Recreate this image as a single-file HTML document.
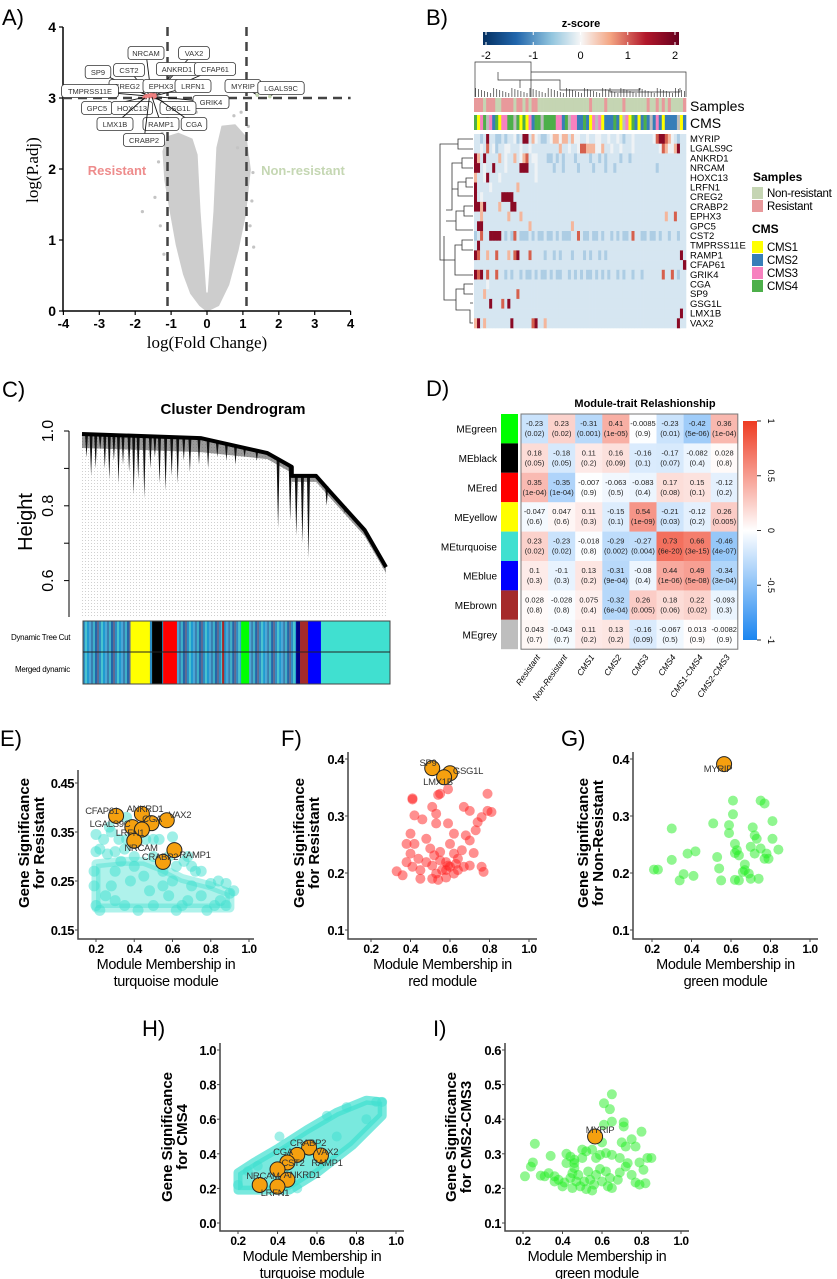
<!DOCTYPE html>
<html><head><meta charset="utf-8">
<style>
html,body{margin:0;padding:0;background:#fff;}
svg{display:block;font-family:"Liberation Sans",sans-serif;}
.nar{letter-spacing:-0.4px;}
</style></head>
<body>
<svg id="fig" xmlns="http://www.w3.org/2000/svg" width="837" height="1279" viewBox="0 0 837 1279">
<defs>
<linearGradient id="zgrad" x1="0" x2="1" y1="0" y2="0">
<stop offset="0" stop-color="#053061"/><stop offset="0.17" stop-color="#2166ac"/><stop offset="0.35" stop-color="#92c5de"/><stop offset="0.5" stop-color="#f7f7f7"/><stop offset="0.65" stop-color="#f4a582"/><stop offset="0.83" stop-color="#b2182b"/><stop offset="1" stop-color="#67001f"/>
</linearGradient>
<linearGradient id="dgrad" x1="0" x2="0" y1="0" y2="1">
<stop offset="0" stop-color="#ee3b22"/><stop offset="0.5" stop-color="#ffffff"/><stop offset="1" stop-color="#1a85f0"/>
</linearGradient>
<pattern id="dots" width="3" height="3" patternUnits="userSpaceOnUse">
<rect x="1" y="0" width="0.6" height="1" fill="#b0b0b0"/>
</pattern>
</defs>
</svg>
<script>
// ---------------- DATA ----------------
// Panel A volcano
const volcanoXTicks = [-4,-3,-2,-1,0,1,2,3,4];
const volcanoYTicks = [0,1,2,3,4];
const volcanoCloudFC = [0,-0.2,-0.45,-0.65,-0.85,-1.0,-1.17,-1.22,-1.1,-0.8,-0.42,-0.28,-0.2,-0.1,-0.04,0.04,0.1,0.2,0.28,0.42,0.78,1.08,1.2,1.06,0.86,0.6,0.32];
const volcanoCloudP  = [0,0.08,0.25,0.52,0.93,1.35,1.85,2.25,2.45,2.5,2.42,2.2,1.4,0.7,0.25,0.25,0.7,1.4,2.3,2.6,2.62,2.45,1.99,1.35,0.86,0.37,0.08];
const strayFC = [-1.8,-1.45,-1.35,-1.3,-1.2,1.2,1.25,1.3,1.15,0.55,0.75,0.95,-0.3,0.85,-1.25,1.28];
const strayP  = [1.4,1.6,2.1,1.2,0.8,1.2,1.55,0.9,2.6,2.95,2.75,2.8,2.8,2.3,2.5,1.95];
const geneNames = ["NRCAM","VAX2","SP9","CST2","ANKRD1","CFAP61","CREG2","EPHX3","LRFN1","MYRIP","LGALS9C","TMPRSS11E","GRIK4","GPC5","HOXC13","GSG1L","LMX1B","RAMP1","CGA","CRABP2"];
const geneFC = [-1.55,-1.5,-1.6,-1.6,-1.5,-1.45,-1.6,-1.55,-1.45,1.4,1.75,-1.7,-1.45,-1.75,-1.65,-1.5,-1.7,-1.55,-1.45,-1.6];
const geneP  = [3.03,3.02,3.03,3.04,3.05,3.04,3.02,3.05,3.03,3.04,3.02,3.03,3.02,3.01,3.03,3.01,3.02,3.04,3.02,3.03];

// Panel B heatmap
const heatGenes = ["MYRIP","LGALS9C","ANKRD1","NRCAM","HOXC13","LRFN1","CREG2","CRABP2","EPHX3","GPC5","CST2","TMPRSS11E","RAMP1","CFAP61","GRIK4","CGA","SP9","GSG1L","LMX1B","VAX2"];
const heatRows = [
"bbBbDbbBBbBbb.BbDDbr.bBBb.rr.rrbr..bb.bb..bb.bb.bBbb.bbbbbb.RDDRr.bBbb",
"bb.bRb.Bbb..bbb.bb.bbbbbbbbbrbb.bb.RRrrr..rbb.bb.bbb.bbbbbbbb.Rr..rDbb",
"DrbDbbbbrb.bbrb.rRb..bbbBBbBbBbbbBbbbbBbbBbBbbbbBbbBbbbbbbbbbbbbbbbbbb",
"DDb.bbDbbb.bbbbDDDbb.bbbbbBbbBbbbbBbbbbBbbbBbbBbbbbbbbbbbbbbBbbbbbbbbb",
"rbb.Dbbb.bbbbbbbbbbb.bbbbbbbbbbbbbbbbbbbbbbbbbbbbbbbbbbbbbbbbbbbbbbbbb",
"Dbbbb.bbbbbbbbrbbbbbbbbbbbbbbbbbbbbbbbbbbbbbbbbbbbbbbbbbbbbbbbbbbbbbbb",
"Db.bbbbbbDDDDbbbbbbbbbbbbbbbbbbbbbbbbbbbbbbbbbbbbbbbbbbbbbbbbbbbbbbbbb",
"DDrDbbbbrbbbDDbbbbbbbbbbbbbbbbbbbbbbbbbbbbbbbbbbbbbbbbbbbbbbbbbbbbbbbb",
"bbrbbbbbbbbrbbbrbbbbbbbbbbbbbbbbbbbbbbbbbbbbbbbbbbbbbbbbbbbbbbbrbbRbbb",
"bDDbbbbbbbbbbbbbbbrbbbbbbbbbbbbbrbbbbbbbbbbbbbbbbbbbbbbbbbbbbbbbbbbbbb",
"BbRbbDDDDbBbBRbBBBbBbBBbBBbBbBBBbbRbBBbBBbBbbBbBbBBbRbbBBbBBbBbbBbbBbb",
"bDbbbbbbbbbbbbbbbbbbbbbbbbbbbbbbbbbbbbbbbbbbbbbbbbbbbbbbbbbbbbbbbbbbbb",
"DRbbrbbRbbbrbRDbbbRbbbbBbbBbBbbbBbbbBbBbbBbBbbbbbbbbbbbbbbbbbbbbbbbbDb",
"bbbbbbbbbbbbbbbbbbbbbbbbbbbbbbbbbbbbbbbbbbbbbbbbbbbbbbbbbbbbbbbbbbbbbD",
"DRDbRbbRbbBbBbbBbBBbBbBBbBbBBbbBbBbBbBBbBbBbBbbBbBbbBbbBbbbbbbRbbRbBbb",
"bbbb.bbbbbbbbbbbbbbbbbbbbbbbbbbbbbbbbbbbbbbbbbbbbbbbbbbbbbbbbbbbbbbbbb",
"bbbrbbbbbbbbbbRbbbbbbbbbbbbbbbbbbbbbbbbbbbbbbbbbbbbbbbbbbbbbbbbbbbbbbb",
"bbbbbDbbbRbDbbbbbbbbbbbbbbbbbbbbbbbbbbbbbbbbbbbbbbbbbbbbbbbbbbbbbbbbbb",
"bbbbbbbbbbbbbbbbbbbbbbbbbbbbbbbbbbbbbbbbbbbbbbbbbbbbbbbbbbbbbbbbbbbbDb",
"rDbrbbbbbbbbDbbbbbbRDbbrbbbbbbbbbbbbbbbbbbbbbbbbbbbbbbbbbbbbbbbbbbbDbb"];
const sampleGroups = "RRRNRRRNNRRRRNRRNRNRRNNNNNNNNNNNNNNNNNRNNNNRNNNNNRNNNNNNNRNNRNRNRNNNNR";
const cmsGroups    = "4134132413344241413244144443324133224213231222421331421242223212222312";
const zTicks = [-2,-1,0,1,2];

// Panel C
const envHeight = [0.992,0.981,0.941,0.904,0.88,0.88,0.834,0.735,0.636];
const envX      = [0,0.39,0.61,0.69,0.69,0.77,0.82,0.93,1.0];
const spikeX = [0.01,0.025,0.04,0.055,0.07,0.085,0.1,0.115,0.13,0.15,0.165,0.18,0.2,0.22,0.235,0.25,0.27,0.29,0.31,0.33,0.35,0.38,0.41,0.44,0.47,0.5,0.53,0.57,0.6,0.64,0.68,0.7,0.72,0.74,0.8,0.86];
const spikeBottom = [0.93,0.88,0.9,0.95,0.9,0.87,0.92,0.86,0.91,0.89,0.83,0.87,0.82,0.9,0.93,0.86,0.84,0.88,0.86,0.92,0.89,0.91,0.9,0.93,0.92,0.91,0.93,0.92,0.94,0.74,0.76,0.72,0.7,0.66,0.8,0.78];
const cTicks = [1.0,0.8,0.6];
const treeCut = [[0,0.155,"mix"],[0.155,0.218,"#ffff00"],[0.218,0.225,"mix"],[0.225,0.258,"#000000"],[0.258,0.261,"mix"],[0.261,0.306,"#ff0000"],[0.306,0.453,"mix"],[0.453,0.46,"#a52a2a"],[0.46,0.515,"mix"],[0.515,0.541,"#00ff00"],[0.541,0.694,"mix"],[0.694,0.707,"#00008b"],[0.707,0.733,"#a52a2a"],[0.733,0.775,"#0000ff"],[0.775,1,"#40e0d0"]];

// Panel D
const modules = ["MEgreen","MEblack","MEred","MEyellow","MEturquoise","MEblue","MEbrown","MEgrey"];
const moduleColors = ["#00ff00","#000000","#ff0000","#ffff00","#40e0d0","#0000ff","#a52a2a","#bebebe"];
const traits = ["Resistant","Non-Resistant","CMS1","CMS2","CMS3","CMS4","CMS1-CMS4","CMS2-CMS3"];
const corVals = [
["-0.23","0.23","-0.31","0.41","-0.0085","-0.23","-0.42","0.36"],
["0.18","-0.18","0.11","0.16","-0.16","-0.17","-0.082","0.028"],
["0.35","-0.35","-0.007","-0.063","-0.083","0.17","0.15","-0.12"],
["-0.047","0.047","0.11","-0.15","0.54","-0.21","-0.12","0.26"],
["0.23","-0.23","-0.018","-0.29","-0.27","0.73","0.66","-0.46"],
["0.1","-0.1","0.13","-0.31","-0.08","0.44","0.49","-0.34"],
["0.028","-0.028","0.075","-0.32","0.26","0.18","0.22","-0.093"],
["0.043","-0.043","0.11","0.13","-0.16","-0.067","0.013","-0.0082"]];
const pVals = [
["0.02","0.02","0.001","1e-05","0.9","0.01","5e-06","1e-04"],
["0.05","0.05","0.2","0.09","0.1","0.07","0.4","0.8"],
["1e-04","1e-04","0.9","0.5","0.4","0.08","0.1","0.2"],
["0.6","0.6","0.3","0.1","1e-09","0.03","0.2","0.005"],
["0.02","0.02","0.8","0.002","0.004","6e-20","3e-15","4e-07"],
["0.3","0.3","0.2","9e-04","0.4","1e-06","5e-08","3e-04"],
["0.8","0.8","0.4","6e-04","0.005","0.06","0.02","0.3"],
["0.7","0.7","0.2","0.2","0.09","0.5","0.9","0.9"]];
const dTicks = [1,0.5,0,-0.5,-1];

// Panel E
const ePoints = [[0.2,0.345],[0.24,0.335],[0.28,0.35],[0.32,0.335],[0.36,0.335],[0.2,0.31],[0.22,0.315],[0.26,0.305],[0.3,0.31],[0.35,0.315],[0.46,0.335],[0.5,0.335],[0.53,0.335],[0.6,0.34],[0.66,0.29],[0.62,0.28],[0.72,0.27],[0.75,0.27],[0.7,0.28],[0.8,0.245],[0.84,0.25],[0.88,0.245],[0.9,0.225],[0.88,0.2],[0.85,0.21],[0.68,0.3],[0.58,0.3],[0.5,0.3],[0.27,0.36],[0.36,0.38],[0.43,0.355],[0.2,0.2],[0.25,0.22],[0.3,0.27],[0.4,0.28],[0.45,0.26],[0.55,0.27],[0.6,0.25],[0.7,0.24],[0.75,0.22],[0.82,0.2],[0.65,0.2],[0.5,0.2],[0.35,0.2],[0.92,0.23],[0.78,0.19],[0.19,0.27],[0.19,0.24],[0.4,0.3],[0.33,0.29],[0.28,0.24],[0.38,0.25],[0.48,0.23],[0.58,0.22],[0.68,0.21],[0.22,0.19],[0.42,0.19],[0.62,0.19],[0.3,0.21],[0.55,0.24]];
const eCore = [[0.2,0.195],[0.9,0.195],[0.9,0.225],[0.8,0.24],[0.65,0.255],[0.55,0.275],[0.45,0.29],[0.33,0.29],[0.2,0.285]];
const eHub = [[0.305,0.383],[0.44,0.387],[0.39,0.36],[0.49,0.368],[0.44,0.355],[0.57,0.374],[0.40,0.332],[0.61,0.313],[0.55,0.289]];
const eHubNames = ["CFAP61","ANKRD1","LGALS9C","CGA","LRFN1","VAX2","NRCAM","RAMP1","CRABP2"];
// Panel F
const fPoints = [[0.41,0.329],[0.42,0.301],[0.54,0.337],[0.46,0.294],[0.51,0.316],[0.53,0.304],[0.67,0.316],[0.70,0.309],[0.74,0.289],[0.76,0.298],[0.79,0.309],[0.81,0.307],[0.73,0.275],[0.70,0.257],[0.66,0.240],[0.68,0.266],[0.59,0.287],[0.53,0.287],[0.62,0.269],[0.40,0.269],[0.38,0.251],[0.42,0.251],[0.40,0.234],[0.38,0.219],[0.41,0.211],[0.45,0.205],[0.50,0.243],[0.52,0.231],[0.55,0.222],[0.58,0.219],[0.59,0.213],[0.60,0.211],[0.56,0.205],[0.53,0.199],[0.51,0.190],[0.54,0.188],[0.58,0.192],[0.62,0.199],[0.64,0.205],[0.67,0.211],[0.70,0.213],[0.72,0.235],[0.76,0.211],[0.77,0.202],[0.33,0.203],[0.36,0.196],[0.45,0.190],[0.48,0.260],[0.60,0.251],[0.64,0.225],[0.55,0.237],[0.62,0.234],[0.51,0.213],[0.48,0.219],[0.44,0.225],[0.63,0.216],[0.58,0.205],[0.59,0.347],[0.79,0.339],[0.55,0.339],[0.41,0.331]];
const fHub = [[0.51,0.384],[0.60,0.375],[0.57,0.368]];
const fHubNames = ["SP9","GSG1L","LMX1B"];
// Panel G
const gPoints = [[0.30,0.278],[0.23,0.206],[0.21,0.206],[0.30,0.223],[0.34,0.187],[0.36,0.198],[0.38,0.234],[0.42,0.238],[0.41,0.195],[0.53,0.228],[0.54,0.208],[0.55,0.187],[0.51,0.287],[0.59,0.284],[0.59,0.270],[0.61,0.327],[0.61,0.303],[0.62,0.251],[0.62,0.235],[0.63,0.240],[0.64,0.231],[0.62,0.188],[0.64,0.187],[0.67,0.215],[0.66,0.202],[0.70,0.246],[0.71,0.280],[0.72,0.266],[0.73,0.260],[0.72,0.234],[0.69,0.199],[0.70,0.190],[0.74,0.190],[0.75,0.327],[0.77,0.322],[0.78,0.234],[0.77,0.225],[0.79,0.225],[0.81,0.291],[0.81,0.260],[0.84,0.241],[0.75,0.243],[0.67,0.205]];
const gHub = [[0.565,0.391]];
const gHubNames = ["MYRIP"];
// Panel H
const hCore = [[0.2,0.19],[0.46,0.19],[0.6,0.29],[0.78,0.45],[0.93,0.62],[0.93,0.7],[0.85,0.71],[0.7,0.64],[0.55,0.54],[0.4,0.43],[0.28,0.35],[0.2,0.29]];
const hPoints = [[0.41,0.50],[0.2,0.22],[0.25,0.3],[0.3,0.33],[0.9,0.7],[0.93,0.7],[0.85,0.6],[0.7,0.5],[0.6,0.45],[0.5,0.2],[0.45,0.42],[0.65,0.62],[0.75,0.67]];
const hHub = [[0.56,0.436],[0.50,0.394],[0.62,0.39],[0.45,0.35],[0.40,0.31],[0.45,0.25],[0.40,0.21],[0.31,0.22]];
// Panel I
const iPoints = [[0.65,0.472],[0.61,0.446],[0.64,0.429],[0.65,0.393],[0.61,0.384],[0.71,0.391],[0.71,0.379],[0.80,0.364],[0.75,0.342],[0.70,0.333],[0.72,0.321],[0.77,0.321],[0.60,0.333],[0.52,0.307],[0.59,0.297],[0.65,0.297],[0.26,0.329],[0.25,0.275],[0.34,0.294],[0.42,0.300],[0.50,0.312],[0.55,0.312],[0.46,0.283],[0.42,0.273],[0.50,0.288],[0.57,0.288],[0.62,0.302],[0.69,0.288],[0.73,0.273],[0.79,0.275],[0.83,0.288],[0.85,0.288],[0.81,0.254],[0.24,0.263],[0.21,0.235],[0.29,0.237],[0.33,0.244],[0.36,0.235],[0.38,0.225],[0.41,0.217],[0.44,0.230],[0.45,0.244],[0.46,0.259],[0.48,0.239],[0.47,0.220],[0.49,0.206],[0.52,0.198],[0.55,0.194],[0.56,0.211],[0.54,0.225],[0.57,0.239],[0.59,0.256],[0.62,0.249],[0.64,0.230],[0.63,0.206],[0.68,0.225],[0.69,0.246],[0.72,0.263],[0.75,0.239],[0.77,0.217],[0.79,0.211],[0.82,0.215],[0.65,0.201],[0.60,0.220],[0.45,0.201],[0.40,0.206],[0.36,0.220],[0.31,0.235],[0.51,0.220],[0.53,0.249],[0.46,0.273],[0.44,0.292]];
const iHub = [[0.565,0.35]];
const mmTicks = [0.2,0.4,0.6,0.8,1.0];

// ---------------- DRAWING ----------------
const NS = "http://www.w3.org/2000/svg";
const svg = document.getElementById("fig");
function mk(tag, attrs, parent){
  const e = document.createElementNS(NS, tag);
  for (const k in attrs) e.setAttribute(k, attrs[k]);
  (parent || svg).appendChild(e);
  return e;
}
function tx(x, y, s, attrs, parent){
  const e = mk("text", Object.assign({x:x, y:y}, attrs || {}), parent);
  e.textContent = s;
  return e;
}
function grp(name){
  const g = mk("g", {});
  
  
  return g;
}
function panelLabel(s, x, y){
  const t = tx(x, y, s, {"font-size":22, fill:"#000"});
  
  
}
panelLabel("A)", 2, 25); panelLabel("B)", 426, 25);
panelLabel("C)", 2, 397); panelLabel("D)", 426, 396);
panelLabel("E)", 0, 746); panelLabel("F)", 281, 746); panelLabel("G)", 561, 746);
panelLabel("H)", 142, 1036); panelLabel("I)", 433, 1036);

// ---- Panel A ----
(function(){
  const g = grp("volcano-plot");
  const X = v => 207 + v * 35.9, Y = v => 311 - v * 71;
  let d = "";
  volcanoCloudFC.forEach((v, i) => { d += (i ? "L" : "M") + X(v).toFixed(1) + "," + Y(volcanoCloudP[i]).toFixed(1); });
  const cloud = mk("path", {d: d + "Z", fill:"#cdcdcd", stroke:"#cdcdcd", "stroke-width":1.5, "stroke-linejoin":"round"}, g);
  
  
  strayFC.forEach((v, i) => {
    const c = mk("circle", {cx:X(v), cy:Y(strayP[i]), r:1.6, fill:"#c4c4c4"}, g);
    
    
  });
  const ax = mk("path", {d:"M63," + Y(4) + "V311H" + X(4), fill:"none", stroke:"#000", "stroke-width":1.5}, g);
  
  
  volcanoXTicks.forEach(v => {
    mk("line", {x1:X(v), x2:X(v), y1:311, y2:315, stroke:"#000", "stroke-width":1.2}, g);
    const t = tx(X(v), 328, String(v), {"font-size":13, "font-weight":"bold", "text-anchor":"middle"}, g);
    
    
  });
  volcanoYTicks.forEach(v => {
    mk("line", {x1:59, x2:63, y1:Y(v), y2:Y(v), stroke:"#000", "stroke-width":1.2}, g);
    const t = tx(56, Y(v) + 5, String(v), {"font-size":14, "font-weight":"bold", "text-anchor":"end"}, g);
    
    
  });
  const xt = tx(207, 348, "log(Fold Change)", {"font-size":17, "font-family":"Liberation Serif,serif", "text-anchor":"middle"}, g);
  
  
  const yt = tx(0, 0, "log(P.adj)", {"font-size":17, "font-family":"Liberation Serif,serif", "text-anchor":"middle", transform:"translate(38,170) rotate(-90)"}, g);
  
  
  [-1.1, 1.1].forEach(v => {
    const l = mk("line", {x1:X(v), x2:X(v), y1:Y(4), y2:311, stroke:"#444", "stroke-width":2.5, "stroke-dasharray":"9,6"}, g);
    
    
  });
  const hl = mk("line", {x1:63, x2:X(4), y1:Y(3), y2:Y(3), stroke:"#444", "stroke-width":2.5, "stroke-dasharray":"9,6"}, g);
  
  
  const r1 = tx(117, 175, "Resistant", {"font-size":13, "font-weight":"bold", fill:"#ee8c8c", "text-anchor":"middle"}, g);
  
  
  const r2 = tx(303, 175, "Non-resistant", {"font-size":13, "font-weight":"bold", fill:"#c5d7b3", "text-anchor":"middle"}, g);
  
  
  const boxes = [[146,53],[194,53],[98,72],[129,70],[177,69],[215,69],[127,86],[161,86],[193,86],[243,86],[281,88],[90,91],[211,102],[97,108],[132,108],[178,108],[115,124],[161,124],[194,124],[144,140]];
  geneNames.forEach((n, i) => {
    const px = X(geneFC[i]), py = Y(geneP[i]);
    const [bx, by] = boxes[i];
    const w = n.length * 5.2 + 10;
    mk("line", {x1:bx, y1:by, x2:px, y2:py, stroke:"#111", "stroke-width":0.9}, g);
    const pt = mk("circle", {cx:px, cy:py, r:1.8, fill: geneFC[i] < 0 ? "#f08080" : "#c5d7b3"}, g);
    
    
    const b = mk("rect", {x:bx - w/2, y:by - 6.5, width:w, height:13, rx:3, fill:"#fff", stroke:"#333", "stroke-width":0.8}, g);
    
    
    const t = tx(bx, by + 2.8, n, {"font-size":7.5, "text-anchor":"middle", fill:"#333"}, g);
    
    
  });
})();

// ---- Panel B ----
(function(){
  const g = grp("expression-heatmap");
  const cb = mk("rect", {x:483, y:32, width:196, height:13, fill:"url(#zgrad)"}, g);
  
  
  const zt = tx(581, 27, "z-score", {"font-size":11, "font-weight":"bold", "text-anchor":"middle"}, g);
  
  
  zTicks.forEach(v => {
    const x = 486 + (v + 2) / 4 * 189;
    mk("line", {x1:x, x2:x, y1:32, y2:35, stroke:"#fff", "stroke-width":1}, g);
    mk("line", {x1:x, x2:x, y1:42, y2:45, stroke:"#fff", "stroke-width":1}, g);
    const t = tx(x, 59, String(v), {"font-size":11, "text-anchor":"middle"}, g);
    
    
  });
  const x0 = 474, x1 = 686, nC = 70, cw = (x1 - x0) / nC, y0 = 134, rh = 9.7;
  const cmap = {".":"#eef2f5","b":"#d6e6f1","B":"#adcde4","r":"#f4b69c","R":"#d6604d","D":"#8a0a25"};
  heatRows.forEach((row, ri) => {
    for (let c = 0; c < nC; c++) {
      const ch = row[c] || "b";
      const r = mk("rect", {x:x0 + c*cw, y:y0 + ri*rh, width:cw + 0.3, height:rh + 0.3, fill:cmap[ch]}, g);
      
      
    }
    const t = tx(690, y0 + ri*rh + 8, heatGenes[ri], {"font-size":9.5}, g);
    
    
  });
  const cmsCol = {"1":"#ffff00","2":"#377eb8","3":"#f781bf","4":"#4daf4a"};
  for (let c = 0; c < nC; c++) {
    const s = mk("rect", {x:x0 + c*cw, y:98, width:cw + 0.3, height:14, fill: sampleGroups[c] === "R" ? "#e8999b" : "#c5d5b3"}, g);
    
    
    const k = mk("rect", {x:x0 + c*cw, y:115, width:cw + 0.3, height:15, fill: c % 9 === 4 ? "#bdbdbd" : cmsCol[cmsGroups[c]]}, g);
    
    
  }
  const st = tx(690, 111, "Samples", {"font-size":14}, g);
  
  
  const ct = tx(690, 128, "CMS", {"font-size":14}, g);
  
  
  let d = "M475,97V62H531V97M531,72H686V97M498,72V80H560V85M520,80V88M560,85V90H640V88M610,88V92H680V88";
  for (let c = 0; c < nC; c++) d += "M" + (x0 + c*cw + cw/2).toFixed(1) + ",97V" + (88 + (c*7 % 6));
  const cd = mk("path", {d:d, fill:"none", stroke:"#333", "stroke-width":0.7}, g);
  
  
  let rd = "M473,139H458V149H473M458,144H440V260H452M473,158H462V168H473M462,163H452V210H446M473,178H466V187H473M466,182H458V196H473M458,189H452M473,206H464V216H473M464,211H456V230H473M456,221H446M473,240H462V250H473M462,245H455V275H473M455,260H452M473,284H464V294H473M464,289H456V310H470V323H473M456,300H444V236M473,303H470";
  const rdp = mk("path", {d:rd, fill:"none", stroke:"#333", "stroke-width":0.8}, g);
  
  
  const leg = [["Samples",753,181,null],["Non-resistant",767,197,"#c5d5b3"],["Resistant",767,210,"#e8999b"],["CMS",752,233,null],["CMS1",767,251,"#ffff00"],["CMS2",767,264,"#377eb8"],["CMS3",767,277,"#f781bf"],["CMS4",767,290,"#4daf4a"]];
  leg.forEach(([s, x, y, col]) => {
    if (col) {
      const sw = mk("rect", {x:752, y:y - 10, width:11, height:12, fill:col}, g);
      
      
    }
    const t = tx(x, y, s, {"font-size": col ? 11.5 : 12, "font-weight": col ? "normal" : "bold", "letter-spacing": col ? "-0.3" : "0"}, g);
    
    
  });
})();

// ---- Panel C ----
(function(){
  const g = grp("cluster-dendrogram");
  const L = 82, R = 386, Y = h => 431 + (1.0 - h) * 374, X = f => L + f * (R - L);
  const title = tx(233, 414, "Cluster Dendrogram", {"font-size":15, "font-weight":"bold", "text-anchor":"middle"}, g);
  
  
  let env = "";
  envX.forEach((f, i) => { env += (i ? "L" : "M") + X(f).toFixed(1) + "," + Y(envHeight[i]).toFixed(1); });
  const bg = mk("path", {d: env + "L" + R + ",617H" + L + "Z", fill:"url(#dots)"}, g);
  
  
  // dense fringe under canopy
  let fr = "";
  envX.forEach((f, i) => { fr += (i ? "L" : "M") + X(f).toFixed(1) + "," + Y(envHeight[i]).toFixed(1); });
  for (let i = envX.length - 1; i >= 0; i--) fr += "L" + X(envX[i]).toFixed(1) + "," + (Y(envHeight[i]) + (envX[i] < 0.6 ? 14 : 6)).toFixed(1);
  const fringe = mk("path", {d: fr + "Z", fill:"#555", "fill-opacity":0.6}, g);
  
  
  function envAt(f){
    for (let i = 1; i < envX.length; i++) if (f <= envX[i]) { const a = envX[i-1], b = envX[i]; const t = b > a ? (f - a) / (b - a) : 0; return envHeight[i-1] + t * (envHeight[i] - envHeight[i-1]); }
    return envHeight[envHeight.length - 1];
  }
  spikeX.forEach((f, i) => {
    const top = Y(envAt(f));
    const sp = mk("path", {d:"M" + X(f).toFixed(1) + "," + top.toFixed(1) + "L" + (X(f) + 1.5).toFixed(1) + "," + Y(spikeBottom[i]).toFixed(1) + "L" + (X(f) + 3).toFixed(1) + "," + top.toFixed(1) + "Z", fill:"#111"}, g);
    
    
  });
  const canopy = mk("path", {d:env, fill:"none", stroke:"#000", "stroke-width":4, "stroke-linejoin":"round"}, g);
  
  
  const ax = mk("line", {x1:69, x2:69, y1:431, y2:617, stroke:"#000", "stroke-width":1}, g);
  
  
  [1.0,0.9,0.8,0.7,0.6].forEach(v => mk("line", {x1:64, x2:69, y1:Y(v), y2:Y(v), stroke:"#000"}, g));
  cTicks.forEach(v => {
    const t = tx(0, 0, v.toFixed(1), {"font-size":16, "text-anchor":"middle", transform:"translate(53," + Y(v) + ") rotate(-90)"}, g);
    
    
  });
  const yt = tx(0, 0, "Height", {"font-size":20, "text-anchor":"middle", transform:"translate(32,522) rotate(-90)"}, g);
  
  
  const mixCols = ["#2b8cc4","#4aa6d6","#2466a8","#49c3cf","#3a7fb0","#5e6b93","#1f9ad0","#3fb0c8"];
  const BL = 83, BR = 390;
  let mi = 0;
  treeCut.forEach(([a, b, col]) => {
    if (col === "mix") {
      for (let x = BL + a*(BR-BL); x < BL + b*(BR-BL) - 0.1; x += 2) {
        const w = Math.min(2, BL + b*(BR-BL) - x);
        [621, 652].forEach(y => {
          const s = mk("rect", {x:x, y:y, width:w + 0.2, height:32, fill:mixCols[mi % mixCols.length]}, g);
          
          
        });
        mi += 3;
      }
    } else {
      const s = mk("rect", {x:BL + a*(BR-BL), y:621, width:(b-a)*(BR-BL) + 0.3, height:63, fill:col}, g);
      
      
    }
  });
  mk("rect", {x:BL, y:621, width:BR-BL, height:63, fill:"none", stroke:"#444", "stroke-width":1}, g);
  mk("line", {x1:BL, x2:BR, y1:652, y2:652, stroke:"#222", "stroke-width":1}, g);
  const l1 = tx(11, 640, "Dynamic Tree Cut", {"font-size":8, "letter-spacing":"-0.3"}, g);
  
  
  const l2 = tx(15, 672, "Merged dynamic", {"font-size":8, "letter-spacing":"-0.3"}, g);
  
  
})();

// ---- Panel D ----
(function(){
  const g = grp("module-trait-heatmap");
  const L = 521, T = 414, cw = 27.1, rh = 29.4;
  const title = tx(645, 407, "Module-trait Relashionship", {"font-size":11, "font-weight":"bold", "text-anchor":"middle"}, g);
  
  
  function col(v){
    const t = Math.min(1, Math.abs(v));
    const c = v >= 0 ? [238,59,34] : [26,133,240];
    return "rgb(" + c.map(k => Math.round(255 + (k - 255) * t)).join(",") + ")";
  }
  modules.forEach((m, r) => {
    const sw = mk("rect", {x:501, y:T + r*rh, width:17, height:rh, fill:moduleColors[r]}, g);
    
    
    const lab = tx(497, T + r*rh + rh/2 + 4, m, {"font-size":10, "text-anchor":"end"}, g);
    
    
    traits.forEach((tr, c) => {
      const v = parseFloat(corVals[r][c]);
      const cell = mk("rect", {x:L + c*cw, y:T + r*rh, width:cw + 0.3, height:rh + 0.3, fill:col(v)}, g);
      
      
      const t1 = tx(L + c*cw + cw/2, T + r*rh + 12, corVals[r][c], {"font-size":7.5, "text-anchor":"middle", fill:"#222"}, g);
      
      
      const t2 = tx(L + c*cw + cw/2, T + r*rh + 22, "(" + pVals[r][c] + ")", {"font-size":7.5, "text-anchor":"middle", fill:"#222"}, g);
      
      
    });
  });
  mk("rect", {x:L, y:T, width:8*cw, height:8*rh, fill:"none", stroke:"#777", "stroke-width":1}, g);
  traits.forEach((tr, c) => {
    const t = tx(0, 0, tr, {"font-size":8.5, "text-anchor":"end", "font-style":"italic", transform:"translate(" + (L + c*cw + cw/2 + 6) + "," + (T + 8*rh + 8) + ") rotate(-55)"}, g);
    
    
  });
  const cb = mk("rect", {x:743, y:421, width:14, height:219, fill:"url(#dgrad)"}, g);
  
  
  dTicks.forEach(v => {
    const y = 530.5 - v * 109.5;
    mk("line", {x1:757, x2:761, y1:y, y2:y, stroke:"#333"}, g);
    const t = tx(0, 0, String(v), {"font-size":9, "text-anchor":"middle", transform:"translate(768," + y + ") rotate(90)"}, g);
    
    
  });
})();

// ---- Scatter panels ----
function scatterPanel(o){
  const g = grp(o.name);
  const X = v => o.x0 + (v - o.xs) * o.kx, Y = v => o.y0 - (v - o.ys) * o.ky;
  if (o.core) {
    let d = "";
    o.core.forEach((p, i) => { d += (i ? "L" : "M") + X(p[0]).toFixed(1) + "," + Y(p[1]).toFixed(1); });
    const c = mk("path", {d: d + "Z", fill:o.color, "fill-opacity":o.coreOp, stroke:o.color, "stroke-opacity":o.coreOp, "stroke-width":9, "stroke-linejoin":"round"}, g);
    
    
  }
  o.pts.forEach(p => {
    const c = mk("circle", {cx:X(p[0]), cy:Y(p[1]), r:o.r, fill:o.color, "fill-opacity":0.5}, g);
    
    
  });
  o.hub.forEach(p => {
    const c = mk("circle", {cx:X(p[0]), cy:Y(p[1]), r:7.5, fill:"#f5a00f", stroke:"#222", "stroke-width":1}, g);
    
    
  });
  o.labels.forEach(([s, x, y]) => {
    const t = tx(x, y, s, {"font-size":9.5, "text-anchor":"middle", fill:"#333", "letter-spacing":"-0.3"}, g);
    
    
  });
  const ax = mk("path", {d:"M" + o.ax + "," + o.top + "V" + o.axY + "H" + o.right, fill:"none", stroke:"#444", "stroke-width":1.5}, g);
  
  
  o.yt.forEach(v => {
    mk("line", {x1:o.ax - 3, x2:o.ax, y1:Y(v), y2:Y(v), stroke:"#444"}, g);
    const t = tx(o.ax - 4, Y(v) + 5, o.yfmt(v), {"font-size":13, "font-weight":"bold", "text-anchor":"end", "letter-spacing":"-0.5"}, g);
    
    
  });
  mmTicks.forEach(v => {
    mk("line", {x1:X(v), x2:X(v), y1:o.axY, y2:o.axY + 3, stroke:"#444"}, g);
    const t = tx(X(v), o.axY + 14, v.toFixed(1), {"font-size":12, "font-weight":"bold", "text-anchor":"middle", "letter-spacing":"-0.5"}, g);
    
    
  });
  const cx = (o.ax + o.right) / 2;
  const x1 = tx(cx, o.axY + 30, "Module Membership in", {"font-size":14.5, "text-anchor":"middle", "letter-spacing":"-0.4"}, g);
  
  
  const x2 = tx(cx, o.axY + 47, o.module + " module", {"font-size":14.5, "text-anchor":"middle", "letter-spacing":"-0.4"}, g);
  
  
  const y1 = tx(0, 0, "Gene Significance", {"font-size":15, "font-weight":"bold", "text-anchor":"middle", transform:"translate(" + o.ytx + "," + o.ytc + ") rotate(-90)"}, g);
  
  
  const y2 = tx(0, 0, o.trait, {"font-size":15, "font-weight":"bold", "text-anchor":"middle", transform:"translate(" + (o.ytx + 15) + "," + o.ytc + ") rotate(-90)"}, g);
  
  
}
const f2 = v => v.toFixed(2), f1 = v => v.toFixed(1);
scatterPanel({name:"scatter-e-turquoise-resistant", x0:96, xs:0.2, kx:191.25, y0:930, ys:0.15, ky:490, ax:78, top:770, axY:939, right:254, r:5.5, color:"#40e0d0", core:eCore, coreOp:0.42, pts:ePoints, hub:eHub,
  labels:[["CFAP61",102,814],["ANKRD1",145,812],["LGALS9C",110,827],["CGA",152,822],["LRFN1",130,836],["VAX2",180,818],["NRCAM",141,851],["CRABP2",160,860],["RAMP1",195,858]],
  yt:[0.15,0.25,0.35,0.45], yfmt:f2, module:"turquoise", trait:"for Resistant", ytx:29, ytc:843});
scatterPanel({name:"scatter-f-red-resistant", x0:371, xs:0.2, kx:197.5, y0:930, ys:0.1, ky:570, ax:348, top:752, axY:939, right:537, r:5, color:"#ff2020", pts:fPoints, hub:fHub,
  labels:[["SP9",428,766],["GSG1L",468,774],["LMX1B",438,785]],
  yt:[0.1,0.2,0.3,0.4], yfmt:f1, module:"red", trait:"for Resistant", ytx:304, ytc:843});
scatterPanel({name:"scatter-g-green-nonresistant", x0:652, xs:0.2, kx:197.5, y0:930, ys:0.1, ky:570, ax:633, top:752, axY:939, right:818, r:5, color:"#22ee22", pts:gPoints, hub:gHub,
  labels:[["MYRIP",718,772]],
  yt:[0.1,0.2,0.3,0.4], yfmt:f1, module:"green", trait:"for Non-Resistant", ytx:588, ytc:843});
scatterPanel({name:"scatter-h-turquoise-cms4", x0:238, xs:0.2, kx:197.5, y0:1223, ys:0, ky:173, ax:220, top:1043, axY:1231, right:404, r:5, color:"#40e0d0", core:hCore, coreOp:0.7, pts:hPoints, hub:hHub,
  labels:[["CRABP2",308,1146],["CGA",283,1155],["VAX2",327,1155],["CST2",293,1166],["RAMP1",327,1166],["NRCAM",263,1179],["ANKRD1",302,1178],["LRFN1",275,1196]],
  yt:[0,0.2,0.4,0.6,0.8,1.0], yfmt:f1, module:"turquoise", trait:"for CMS4", ytx:172, ytc:1137});
scatterPanel({name:"scatter-i-green-cms2-cms3", x0:523, xs:0.2, kx:197.5, y0:1223, ys:0.1, ky:346, ax:505, top:1043, axY:1231, right:689, r:5, color:"#22ee22", pts:iPoints, hub:iHub,
  labels:[["MYRIP",600,1133]],
  yt:[0.1,0.2,0.3,0.4,0.5,0.6], yfmt:f1, module:"green", trait:"for CMS2-CMS3", ytx:456, ytc:1137});
</script>
</body></html>
